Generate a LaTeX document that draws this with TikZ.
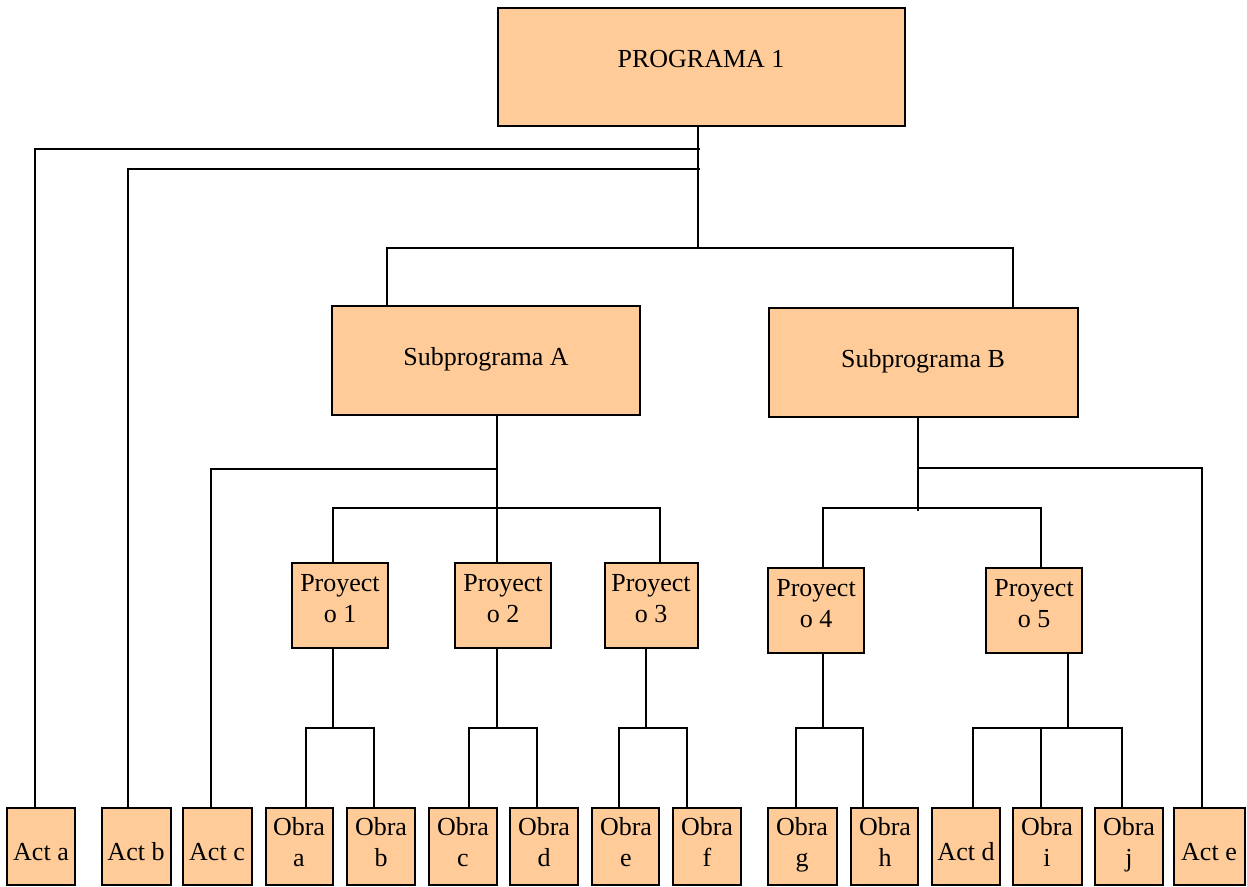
\documentclass[tikz,border=0pt]{standalone}
\usepackage{fontspec}
\setmainfont{Liberation Serif}
\usetikzlibrary{fit}
\definecolor{peach}{HTML}{FFCC99}
\tikzset{
  box/.style={draw=black, line width=2pt, fill=peach, inner sep=0pt},
  txt/.style={inner sep=0pt, align=center, font=\fontsize{26}{31}\selectfont},
  conn/.style={draw=black, line width=2pt}
}
\begin{document}
\begin{tikzpicture}[x=1pt,y=-1pt]
\useasboundingbox (0,0) rectangle (1247,886);
% boxes
\node[box, fit={(498,8)(905,126)}] (prog) {};
\node[txt] (progt) at (701,61) {PROGRAMA 1\strut};
\node[box, fit={(332,306)(640,415)}] (subA) {};
\node[txt] (subAt) at (486,359) {Subprograma A\strut};
\node[box, fit={(769,308)(1078,417)}] (subB) {};
\node[txt] (subBt) at (923,361) {Subprograma B\strut};
\node[box, fit={(292,563)(388,648)}] (p1) {};
\node[txt] (p1t) at (340,603) {Proyect\\o 1\strut};
\node[box, fit={(455,563)(551,648)}] (p2) {};
\node[txt] (p2t) at (503,603) {Proyect\\o 2\strut};
\node[box, fit={(605,563)(698,648)}] (p3) {};
\node[txt] (p3t) at (651,603) {Proyect\\o 3\strut};
\node[box, fit={(768,568)(864,653)}] (p4) {};
\node[txt] (p4t) at (816,608) {Proyect\\o 4\strut};
\node[box, fit={(986,568)(1082,653)}] (p5) {};
\node[txt] (p5t) at (1034,608) {Proyect\\o 5\strut};
% bottom row
\node[box, fit={(7,808)(75,885)}] (acta) {};
\node[txt] (actat) at (41,854) {Act a\strut};
\node[box, fit={(102,808)(171,885)}] (actb) {};
\node[txt] (actbt) at (136,854) {Act b\strut};
\node[box, fit={(183,808)(252,885)}] (actc) {};
\node[txt] (actct) at (217,854) {Act c\strut};
\node[box, fit={(266,808)(333,885)}] (oa) {};
\node[txt] (oat) at (299,847) {Obra\\a\strut};
\node[box, fit={(347,808)(415,885)}] (ob) {};
\node[txt] (obt) at (381,847) {Obra\\b\strut};
\node[box, fit={(429,808)(497,885)}] (oc) {};
\node[txt] (oct) at (463,847) {Obra\\c\strut};
\node[box, fit={(510,808)(578,885)}] (od) {};
\node[txt] (odt) at (544,847) {Obra\\d\strut};
\node[box, fit={(592,808)(659,885)}] (oe) {};
\node[txt] (oet) at (626,847) {Obra\\e\strut};
\node[box, fit={(673,808)(741,885)}] (of) {};
\node[txt] (oft) at (707,847) {Obra\\f\strut};
\node[box, fit={(768,808)(837,885)}] (og) {};
\node[txt] (ogt) at (802,847) {Obra\\g\strut};
\node[box, fit={(851,808)(918,885)}] (oh) {};
\node[txt] (oht) at (885,847) {Obra\\h\strut};
\node[box, fit={(932,808)(1000,885)}] (actd) {};
\node[txt] (actdt) at (966,854) {Act d\strut};
\node[box, fit={(1013,808)(1082,885)}] (oi) {};
\node[txt] (oit) at (1047,847) {Obra\\i\strut};
\node[box, fit={(1095,808)(1163,885)}] (oj) {};
\node[txt] (ojt) at (1129,847) {Obra\\j\strut};
\node[box, fit={(1174,808)(1245,885)}] (acte) {};
\node[txt] (actet) at (1209,854) {Act e\strut};
% junction coordinates
\coordinate (j0) at (698,248);
\coordinate (l1) at (700,149);
\coordinate (l2) at (700,169);
\coordinate (jA) at (497,469);
\coordinate (jA2) at (497,508);
\coordinate (jB) at (918,468);
\coordinate (jB2) at (918,511);
\coordinate (jB3) at (918,508);
\coordinate (jP1) at (333,728);
\coordinate (jP2) at (497,728);
\coordinate (jP3) at (646,728);
\coordinate (jP4) at (823,728);
\coordinate (jP5) at (1068,728);
\coordinate (jP5i) at (1041,728);
% connectors
\draw[conn] (prog.south -| j0) -- (j0);
\draw[conn] (subA.north -| 387,0) |- (j0) -| (subB.north -| 1013,0);
\draw[conn] (l1) -| (acta.north -| 35,0);
\draw[conn] (l2) -| (actb.north -| 128,0);
\draw[conn] (subA.south -| jA) -- (p2.north -| jA);
\draw[conn] (jA) -| (actc.north -| 211,0);
\draw[conn] (p1.north -| 333,0) |- (jA2) -| (p3.north -| 660,0);
\draw[conn] (subB.south -| jB) -- (jB2);
\draw[conn] (jB) -| (acte.north -| 1202,0);
\draw[conn] (p4.north -| 823,0) |- (jB3) -| (p5.north -| 1041,0);
\draw[conn] (p1.south -| jP1) -- (jP1);
\draw[conn] (oa.north -| 306,0) |- (jP1) -| (ob.north -| 374,0);
\draw[conn] (p2.south -| jP2) -- (jP2);
\draw[conn] (oc.north -| 469,0) |- (jP2) -| (od.north -| 537,0);
\draw[conn] (p3.south -| jP3) -- (jP3);
\draw[conn] (oe.north -| 619,0) |- (jP3) -| (of.north -| 687,0);
\draw[conn] (p4.south -| jP4) -- (jP4);
\draw[conn] (og.north -| 796,0) |- (jP4) -| (oh.north -| 863,0);
\draw[conn] (p5.south -| jP5) -- (jP5);
\draw[conn] (actd.north -| 973,0) |- (jP5) -| (oj.north -| 1122,0);
\draw[conn] (oi.north -| jP5i) -- (jP5i);
\end{tikzpicture}
\end{document}
